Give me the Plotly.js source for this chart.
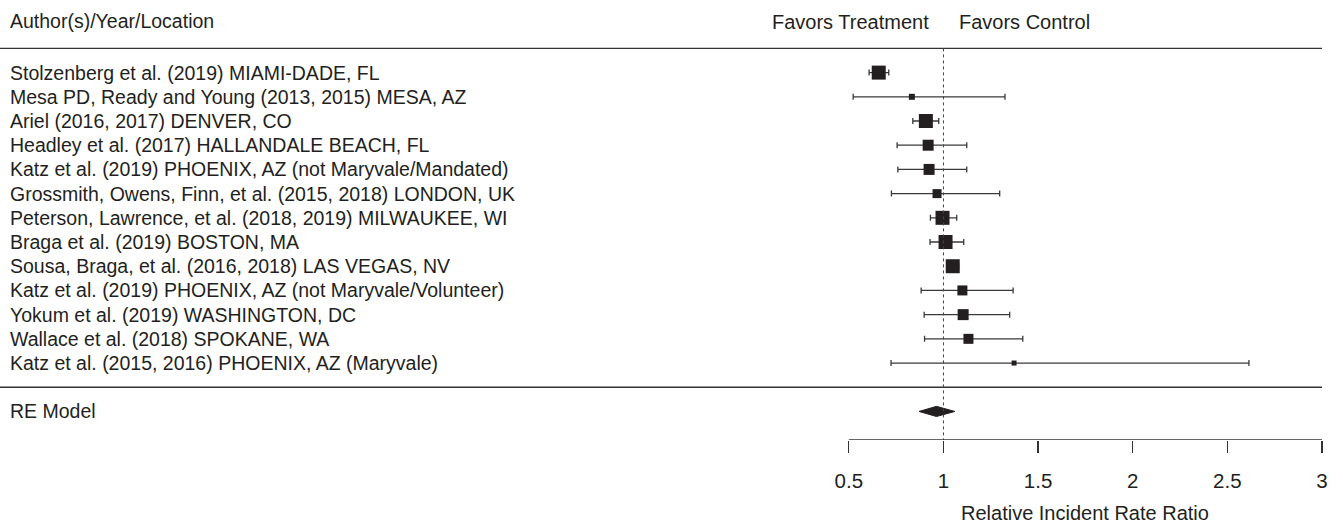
<!DOCTYPE html>
<html>
<head>
<meta charset="utf-8">
<script src="https://cdn.plot.ly/plotly-3.0.1.min.js"></script>
<style>
  html, body { margin: 0; padding: 0; background: #ffffff; }
  #chart { width: 1343px; height: 525px; }
</style>
</head>
<body>
<div id="chart"></div>
<script>
// ---- Data ----
const studies = [
  "Stolzenberg et al. (2019) MIAMI-DADE, FL",
  "Mesa PD, Ready and Young (2013, 2015) MESA, AZ",
  "Ariel (2016, 2017) DENVER, CO",
  "Headley et al. (2017) HALLANDALE BEACH, FL",
  "Katz et al. (2019) PHOENIX, AZ (not Maryvale/Mandated)",
  "Grossmith, Owens, Finn, et al. (2015, 2018) LONDON, UK",
  "Peterson, Lawrence, et al. (2018, 2019) MILWAUKEE, WI",
  "Braga et al. (2019) BOSTON, MA",
  "Sousa, Braga, et al. (2016, 2018) LAS VEGAS, NV",
  "Katz et al. (2019) PHOENIX, AZ (not Maryvale/Volunteer)",
  "Yokum et al. (2019) WASHINGTON, DC",
  "Wallace et al. (2018) SPOKANE, WA",
  "Katz et al. (2015, 2016) PHOENIX, AZ (Maryvale)"
];
const estimate = [0.658, 0.833, 0.907, 0.919, 0.924, 0.966, 0.995, 1.011, 1.049, 1.100, 1.104, 1.132, 1.373];
const ciLower  = [0.607, 0.523, 0.838, 0.755, 0.759, 0.725, 0.931, 0.929, 1.020, 0.882, 0.898, 0.900, 0.723];
const ciUpper  = [0.711, 1.325, 0.975, 1.123, 1.123, 1.297, 1.070, 1.107, 1.080, 1.368, 1.350, 1.419, 2.614];
const weight   = [14, 6, 14, 11, 11, 9, 14, 14, 14, 10, 11, 10, 5];

const reLabel = "RE Model";
const reEstimate = 0.963;
const reLower = 0.871;
const reUpper = 1.060;

const tickValues = [0.5, 1, 1.5, 2, 2.5, 3];
const tickLabels = ["0.5", "1", "1.5", "2", "2.5", "3"];

const headerLeft = "Author(s)/Year/Location";
const headerTreatment = "Favors Treatment";
const headerControl = "Favors Control";
const xTitle = "Relative Incident Rate Ratio";

// ---- Layout helpers ----
const FONT = "'Liberation Sans', Arial, Helvetica, sans-serif";
const INK = "#231f20";
const rows = studies.map((_, i) => i + 1);
const reRow = studies.length + 2;
const xMin = -3.985, xMax = 3.111;
const yBottom = reRow + 1.18, yTop = -2.0;
const LABEL_SIZE = 19.5;

const traces = [
  {
    type: "scatter", mode: "markers",
    x: estimate, y: rows, opacity: 1,
    marker: { symbol: "square", size: weight, color: INK, opacity: 1, line: { width: 0 } },
    error_x: {
      type: "data", symmetric: false,
      array: estimate.map((e, i) => ciUpper[i] - e),
      arrayminus: estimate.map((e, i) => e - ciLower[i]),
      color: "#3a3a3a", thickness: 1.3, width: 3
    },
    hoverinfo: "skip", showlegend: false
  },
  {
    type: "scatter", mode: "lines", fill: "toself",
    x: [reLower, reEstimate, reUpper, reEstimate, reLower],
    y: [reRow, reRow - 0.21, reRow, reRow + 0.21, reRow],
    line: { color: INK, width: 1 }, fillcolor: INK,
    hoverinfo: "skip", showlegend: false
  }
];

const annotations = [];
studies.forEach((s, i) => {
  annotations.push({ xref: "paper", yref: "y", x: 8 / 1343, y: rows[i], text: s,
    xanchor: "left", yanchor: "middle", showarrow: false,
    font: { family: FONT, size: LABEL_SIZE, color: INK } });
});
annotations.push({ xref: "paper", yref: "y", x: 8 / 1343, y: reRow, text: reLabel,
  xanchor: "left", yanchor: "middle", showarrow: false,
  font: { family: FONT, size: LABEL_SIZE, color: INK } });
annotations.push({ xref: "paper", yref: "y", x: 8 / 1343, y: -1.15, text: headerLeft,
  xanchor: "left", yanchor: "middle", showarrow: false,
  font: { family: FONT, size: LABEL_SIZE, color: INK } });
annotations.push({ xref: "x", yref: "y", x: 0.935, y: -1.1, text: headerTreatment,
  xanchor: "right", yanchor: "middle", showarrow: false,
  font: { family: FONT, size: 20, color: INK } });
annotations.push({ xref: "x", yref: "y", x: 1.07, y: -1.1, text: headerControl,
  xanchor: "left", yanchor: "middle", showarrow: false,
  font: { family: FONT, size: 20, color: INK } });
annotations.push({ xref: "x", yref: "paper", x: (tickValues[0] + tickValues[tickValues.length - 1]) / 2,
  y: -73 / 440, text: xTitle, xanchor: "center", yanchor: "middle", showarrow: false,
  font: { family: FONT, size: 20, color: INK } });

const shapes = [
  { type: "line", xref: "x", yref: "y", x0: xMin, x1: 3, y0: 0, y1: 0,
    line: { color: "#333333", width: 1.3 } },
  { type: "line", xref: "x", yref: "y", x0: xMin, x1: 3, y0: studies.length + 1, y1: studies.length + 1,
    line: { color: "#333333", width: 1.3 } },
  { type: "line", xref: "x", yref: "y", x0: 1, x1: 1, y0: 0, y1: yBottom,
    line: { color: "#444444", width: 1, dash: "dot" } },
  { type: "line", xref: "x", yref: "y", x0: tickValues[0], x1: tickValues[tickValues.length - 1],
    y0: yBottom, y1: yBottom, line: { color: "#333333", width: 1.3 } }
];

const layout = {
  width: 1343, height: 525,
  margin: { l: 0, r: 0, t: 0, b: 85 },
  paper_bgcolor: "#ffffff", plot_bgcolor: "#ffffff",
  showlegend: false,
  xaxis: {
    range: [xMin, xMax], showgrid: false, zeroline: false, showline: false,
    tickmode: "array", tickvals: tickValues, ticktext: tickLabels,
    ticks: "outside", ticklen: 12, tickwidth: 1.3, tickcolor: "#333333",
    ticklabelstandoff: 10,
    tickfont: { family: FONT, size: 20.5, color: INK }, fixedrange: true
  },
  yaxis: {
    range: [yBottom, yTop], showgrid: false, zeroline: false, showline: false,
    showticklabels: false, ticks: "", fixedrange: true
  },
  annotations: annotations,
  shapes: shapes
};

Plotly.newPlot("chart", traces, layout, { staticPlot: true, displayModeBar: false });
</script>
</body>
</html>
